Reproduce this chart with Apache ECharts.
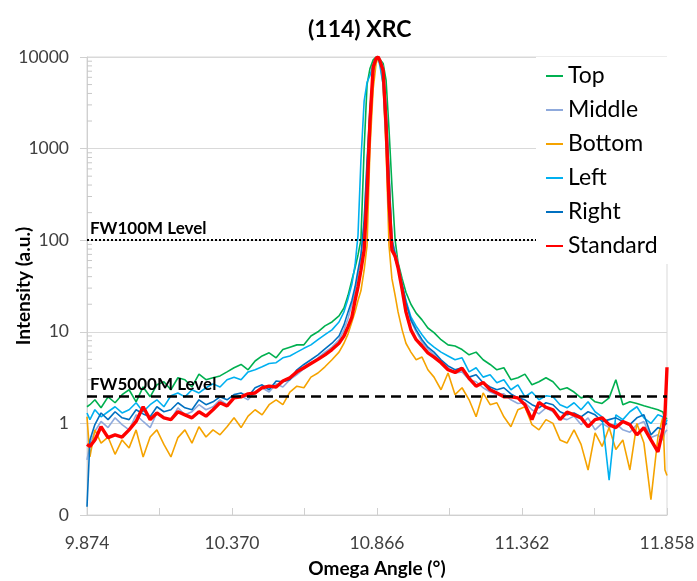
<!DOCTYPE html>
<html><head><meta charset="utf-8">
<script src="https://cdn.jsdelivr.net/npm/echarts@6/dist/echarts.min.js"></script>
<style>html,body{margin:0;padding:0;background:#fff}#c{width:697px;height:581px}</style>
</head><body><div id="c"></div>
<script>
// ---- data ----
const omega = [9.874, 9.884, 9.901, 9.922, 9.946, 9.970, 9.994, 10.018, 10.042, 10.066,
  10.090, 10.113, 10.137, 10.161, 10.185, 10.209, 10.233, 10.257, 10.281, 10.305,
  10.329, 10.353, 10.377, 10.401, 10.425, 10.449, 10.473, 10.497, 10.521, 10.544,
  10.568, 10.592, 10.616, 10.640, 10.664, 10.688, 10.712, 10.736,
  10.753, 10.767, 10.780, 10.791, 10.801, 10.811, 10.822, 10.832, 10.842, 10.853,
  10.863, 10.870, 10.876, 10.887, 10.897, 10.907, 10.917, 10.928, 10.938, 10.952,
  10.965, 10.982, 11.000,
  11.020, 11.040, 11.061, 11.085, 11.109, 11.133, 11.157, 11.181, 11.205, 11.229,
  11.253, 11.276, 11.300, 11.324, 11.348, 11.372, 11.396, 11.420, 11.444, 11.468,
  11.492, 11.516, 11.540, 11.564, 11.588, 11.612, 11.636, 11.660, 11.683, 11.707,
  11.731, 11.755, 11.779, 11.803, 11.827, 11.844, 11.851, 11.858];

const topVals = [1.52, 1.6, 1.81, 1.48, 1.95, 1.68, 2.06, 2.33, 1.72, 2.5,
  1.95, 2.64, 2.85, 2.33, 3.15, 3.0, 2.5, 3.45, 3.0, 3.15,
  3.3, 3.65, 4.05, 4.4, 3.85, 4.8, 5.45, 5.9, 5.2, 6.4,
  6.8, 7.2, 7.2, 9.0, 10.0, 11.6, 12.8, 14.9,
  18.2, 25, 36.7, 50, 69, 100, 1000, 5000, 7500, 9300, 10000, 10000, 9900, 8500, 5600, 1640, 400, 100, 57, 38, 27, 20, 16,
  13.5, 11, 9.8, 8.2, 7.2, 7.0, 6.4, 5.6, 6.0, 4.95,
  4.4, 3.85, 4.05, 3.0, 3.15, 3.45, 2.64, 2.85, 3.15, 2.85,
  2.33, 2.45, 2.2, 1.9, 2.0, 1.72, 1.65, 1.9, 3.0, 1.6,
  1.72, 1.65, 1.56, 1.48, 1.41, 1.33, 1.1, 1.15];

const middleVals = [0.40, 0.59, 0.82, 1.05, 0.9, 1.15, 0.97, 0.85, 1.24, 1.05,
  0.9, 1.3, 1.15, 1.1, 1.48, 1.24, 1.34, 1.6, 1.41, 1.52,
  1.81, 1.6, 1.9, 2.0, 1.81, 2.2, 2.45, 2.2, 2.7, 2.5,
  3.0, 3.4, 3.95, 4.5, 5.2, 6.0, 6.8, 8.2,
  10.5, 14, 20, 27, 42, 64, 150, 660, 2500, 6800, 9700, 10000, 9400, 7800, 3000, 580, 105, 75, 55, 33, 21, 13.2, 10,
  7.7, 6.5, 5.6, 4.7, 4.05, 3.55, 3.65, 3.0, 2.85, 2.45,
  2.2, 2.06, 2.1, 1.81, 1.65, 1.68, 1.41, 1.27, 1.48, 1.34,
  1.15, 1.1, 1.2, 0.97, 1.15, 0.85, 1.0, 0.9, 1.0, 0.85,
  0.8, 0.97, 1.05, 0.7, 0.75, 0.66, 0.8, 0.85];

const bottomVals = [1.18, 0.43, 0.85, 0.61, 0.71, 0.46, 0.66, 0.54, 0.85, 0.43,
  0.71, 0.85, 0.59, 0.43, 0.70, 0.85, 0.61, 0.92, 0.71, 0.85,
  0.75, 0.92, 1.15, 0.9, 1.2, 1.41, 1.24, 1.6, 1.81, 1.6,
  2.2, 2.55, 2.45, 3.2, 3.55, 4.15, 4.95, 6.0,
  7.5, 9.5, 12.8, 16.5, 22, 28, 47, 88, 1000, 4500, 8500, 10000, 9100, 5000, 1000, 88, 38, 25, 16.5, 10.5, 7.5, 6.0, 4.95,
  5.3, 3.85, 3.2, 2.33, 3.55, 2.06, 2.45, 1.81, 1.18, 2.15,
  1.6, 1.68, 1.18, 0.92, 1.41, 1.52, 0.97, 0.85, 1.1, 1.0,
  0.66, 0.61, 0.85, 0.59, 0.31, 0.79, 0.56, 0.9, 0.52, 0.66,
  0.31, 1.0, 0.61, 0.147, 0.71, 1.18, 0.31, 0.27];

const leftVals = [1.3, 1.1, 1.41, 1.18, 1.34, 1.52, 1.3, 1.41, 1.68, 1.34,
  1.6, 1.81, 1.52, 2.0, 2.15, 1.95, 2.33, 2.15, 2.45, 2.7,
  2.5, 3.0, 3.2, 3.0, 3.65, 3.85, 4.15, 4.5, 4.6, 5.2,
  5.45, 6.0, 6.6, 7.2, 8.2, 9.3, 10.5, 12.8,
  16.5, 23, 33, 54, 113, 740, 3300, 5300, 6300, 8300, 10000, 9700, 8000, 5000, 1250, 190, 85, 62, 50, 33, 22, 14.5, 11.5,
  9.3, 7.7, 6.8, 6.0, 5.45, 4.95, 5.2, 3.65, 4.05, 3.2,
  3.4, 2.78, 3.0, 2.33, 2.64, 1.95, 2.2, 1.81, 2.0, 1.95,
  1.6, 1.48, 1.68, 1.41, 1.72, 1.34, 1.18, 0.24, 1.24, 1.1,
  1.34, 1.52, 1.15, 1.0, 1.24, 1.18, 0.97, 1.1];

const rightVals = [0.123, 0.66, 0.97, 1.3, 1.1, 1.34, 1.15, 1.1, 1.41, 1.27,
  1.18, 1.52, 1.34, 1.41, 1.68, 1.48, 1.41, 1.81, 1.6, 1.72,
  1.95, 1.81, 2.06, 2.15, 1.95, 2.45, 2.64, 2.33, 2.9, 2.85,
  3.0, 3.85, 4.4, 4.95, 5.6, 6.5, 7.5, 9.0,
  11.9, 16.5, 22, 31, 47, 69, 165, 740, 2700, 7100, 9700, 10000, 9100, 7500, 2700, 510, 100, 71, 54, 32, 21, 13.5, 10.5,
  8.2, 6.8, 6.0, 4.95, 4.25, 3.85, 4.05, 3.2, 3.4, 2.78,
  2.5, 2.33, 2.45, 2.1, 1.9, 1.81, 1.6, 1.48, 1.68, 1.6,
  1.34, 1.24, 1.3, 1.18, 1.34, 1.24, 1.05, 1.1, 1.15, 1.05,
  0.97, 1.15, 1.24, 0.75, 0.9, 0.85, 0.97, 1.0];

const standardVals = [0.59, 0.56, 0.66, 0.92, 0.70, 0.75, 0.71, 0.85, 1.05, 1.52,
  1.1, 1.3, 1.15, 1.1, 1.34, 1.24, 1.15, 1.34, 1.2, 1.41,
  1.68, 1.55, 1.9, 1.95, 2.1, 2.15, 2.45, 2.55, 2.5, 2.9,
  3.15, 3.65, 4.05, 4.5, 5.0, 5.6, 6.4, 7.5,
  9.0, 11.4, 14.5, 22, 31, 47, 78, 320, 2000, 7800, 9700, 10000, 9100, 7100, 1800, 270, 78, 67, 50, 29, 16.5, 10.5, 8.2,
  7.0, 5.9, 5.3, 4.6, 3.85, 3.6, 4.0, 3.1, 2.55, 2.8,
  2.33, 2.15, 1.95, 1.95, 1.9, 1.6, 1.1, 1.7, 1.5, 1.41,
  1.1, 1.33, 1.24, 1.15, 0.92, 1.1, 1.15, 0.97, 0.9, 1.05,
  0.97, 0.75, 0.9, 0.66, 0.49, 0.85, 1.24, 4.1];

const seriesNames = ['Top', 'Middle', 'Bottom', 'Left', 'Right', 'Standard'];
const fw100Level = 100;
const fw5000Level = 2;
const xMin = 9.874, xMax = 11.858, xStep = 0.248;
const yMin = 0.1, yMax = 10000;
const minorTickValues = [2,3,4,5,6,7,8,9,20,30,40,50,60,70,80,90,200,300,400,500,600,700,800,900,2000,3000,4000,5000,6000,7000,8000,9000];

// ---- styles ----
const FONT = 'Lato';
const seriesStyle = {
  Top: {color: '#00B050', width: 1.6},
  Middle: {color: '#8FAADC', width: 1.6},
  Bottom: {color: '#F5A300', width: 1.6},
  Left: {color: '#00B0F0', width: 1.6},
  Right: {color: '#0070C0', width: 1.6},
  Standard: {color: '#FF0000', width: 3.4}
};
const valueSets = {Top: topVals, Middle: middleVals, Bottom: bottomVals, Left: leftVals, Right: rightVals, Standard: standardVals};

const series = seriesNames.map(n => ({
  name: n, type: 'line', symbol: 'none', showSymbol: false,
  data: omega.map((x, i) => [x, valueSets[n][i]]),
  lineStyle: {color: seriesStyle[n].color, width: seriesStyle[n].width},
  itemStyle: {color: seriesStyle[n].color},
  animation: false, z: 2
}));

series.push({
  name: 'minorTicks', type: 'custom', silent: true, z: 1, clip: false,
  data: minorTickValues.map(v => [xMin, v]),
  renderItem: (params, api) => {
    const p = api.coord([api.value(0), api.value(1)]);
    return {type: 'line', shape: {x1: p[0], y1: p[1], x2: p[0] + 5, y2: p[1]},
      style: {stroke: '#c8c8c8', lineWidth: 1}};
  }
});

series.push({
  name: 'levels', type: 'line', data: [], symbol: 'none', z: 3, silent: true,
  markLine: {
    symbol: ['none', 'none'], silent: true, animation: false,
    data: [
      {yAxis: fw100Level, lineStyle: {type: [2, 2], color: '#000', width: 2},
       label: {show: true, formatter: 'FW100M Level', position: 'insideStartTop', distance: [3, 3],
               fontFamily: FONT, fontWeight: 'bold', fontSize: 17, color: '#000'}},
      {yAxis: fw5000Level, lineStyle: {type: [10, 6], color: '#000', width: 2.5},
       label: {show: true, formatter: 'FW5000M Level', position: 'insideStartTop', distance: [3, 3],
               fontFamily: FONT, fontWeight: 'bold', fontSize: 17, color: '#000'}}
    ]
  }
});

const chart = echarts.init(document.getElementById('c'), null, {renderer: 'canvas'});
chart.setOption({
  animation: false,
  backgroundColor: '#fff',
  title: {text: '(114) XRC', left: 303, top: 13,
    textStyle: {fontFamily: FONT, fontWeight: 'bold', fontSize: 23, color: '#000'}},
  grid: {left: 87, right: 30, top: 57, bottom: 66, show: true, borderColor: '#d9d9d9', borderWidth: 1,
    containLabel: false, outerBoundsMode: 'none'},
  legend: {
    orient: 'vertical', left: 536, top: 57, padding: [5, 11, 4, 10], z: 20,
    itemGap: 6, itemWidth: 17, itemHeight: 2, icon: 'rect', backgroundColor: '#fff',
    data: seriesNames,
    textStyle: {fontFamily: FONT, fontSize: 23, color: '#000', lineHeight: 28}
  },
  xAxis: {
    type: 'value', min: xMin, max: xMax, interval: xStep,
    name: 'Omega Angle (°)', nameLocation: 'middle', nameGap: 44, nameMoveOverlap: false,
    nameTextStyle: {fontFamily: FONT, fontWeight: 'bold', fontSize: 19, color: '#000'},
    axisLine: {lineStyle: {color: '#d0d0d0'}},
    axisTick: {inside: true, length: 7, lineStyle: {color: '#d0d0d0'}},
    splitLine: {show: false},
    axisLabel: {fontFamily: FONT, fontSize: 17.5, color: '#404040', margin: 19,
      formatter: v => { const k = Math.round((v - xMin) / xStep); return k % 2 === 0 ? v.toFixed(3) : ''; }}
  },
  yAxis: {
    type: 'log', logBase: 10, min: yMin, max: yMax,
    name: 'Intensity (a.u.)', nameLocation: 'middle', nameGap: 54, nameRotate: 90, nameMoveOverlap: false,
    nameTextStyle: {fontFamily: FONT, fontWeight: 'bold', fontSize: 19, color: '#000'},
    axisLine: {show: true, lineStyle: {color: '#d0d0d0'}},
    axisTick: {show: true, length: 7, lineStyle: {color: '#d0d0d0'}},
    splitLine: {show: true, lineStyle: {color: '#d9d9d9'}},
    axisLabel: {fontFamily: FONT, fontSize: 17.5, color: '#404040', margin: 18,
      formatter: v => v < 0.5 ? '0' : String(Math.round(v))}
  },
  series: series
});
</script></body></html>
